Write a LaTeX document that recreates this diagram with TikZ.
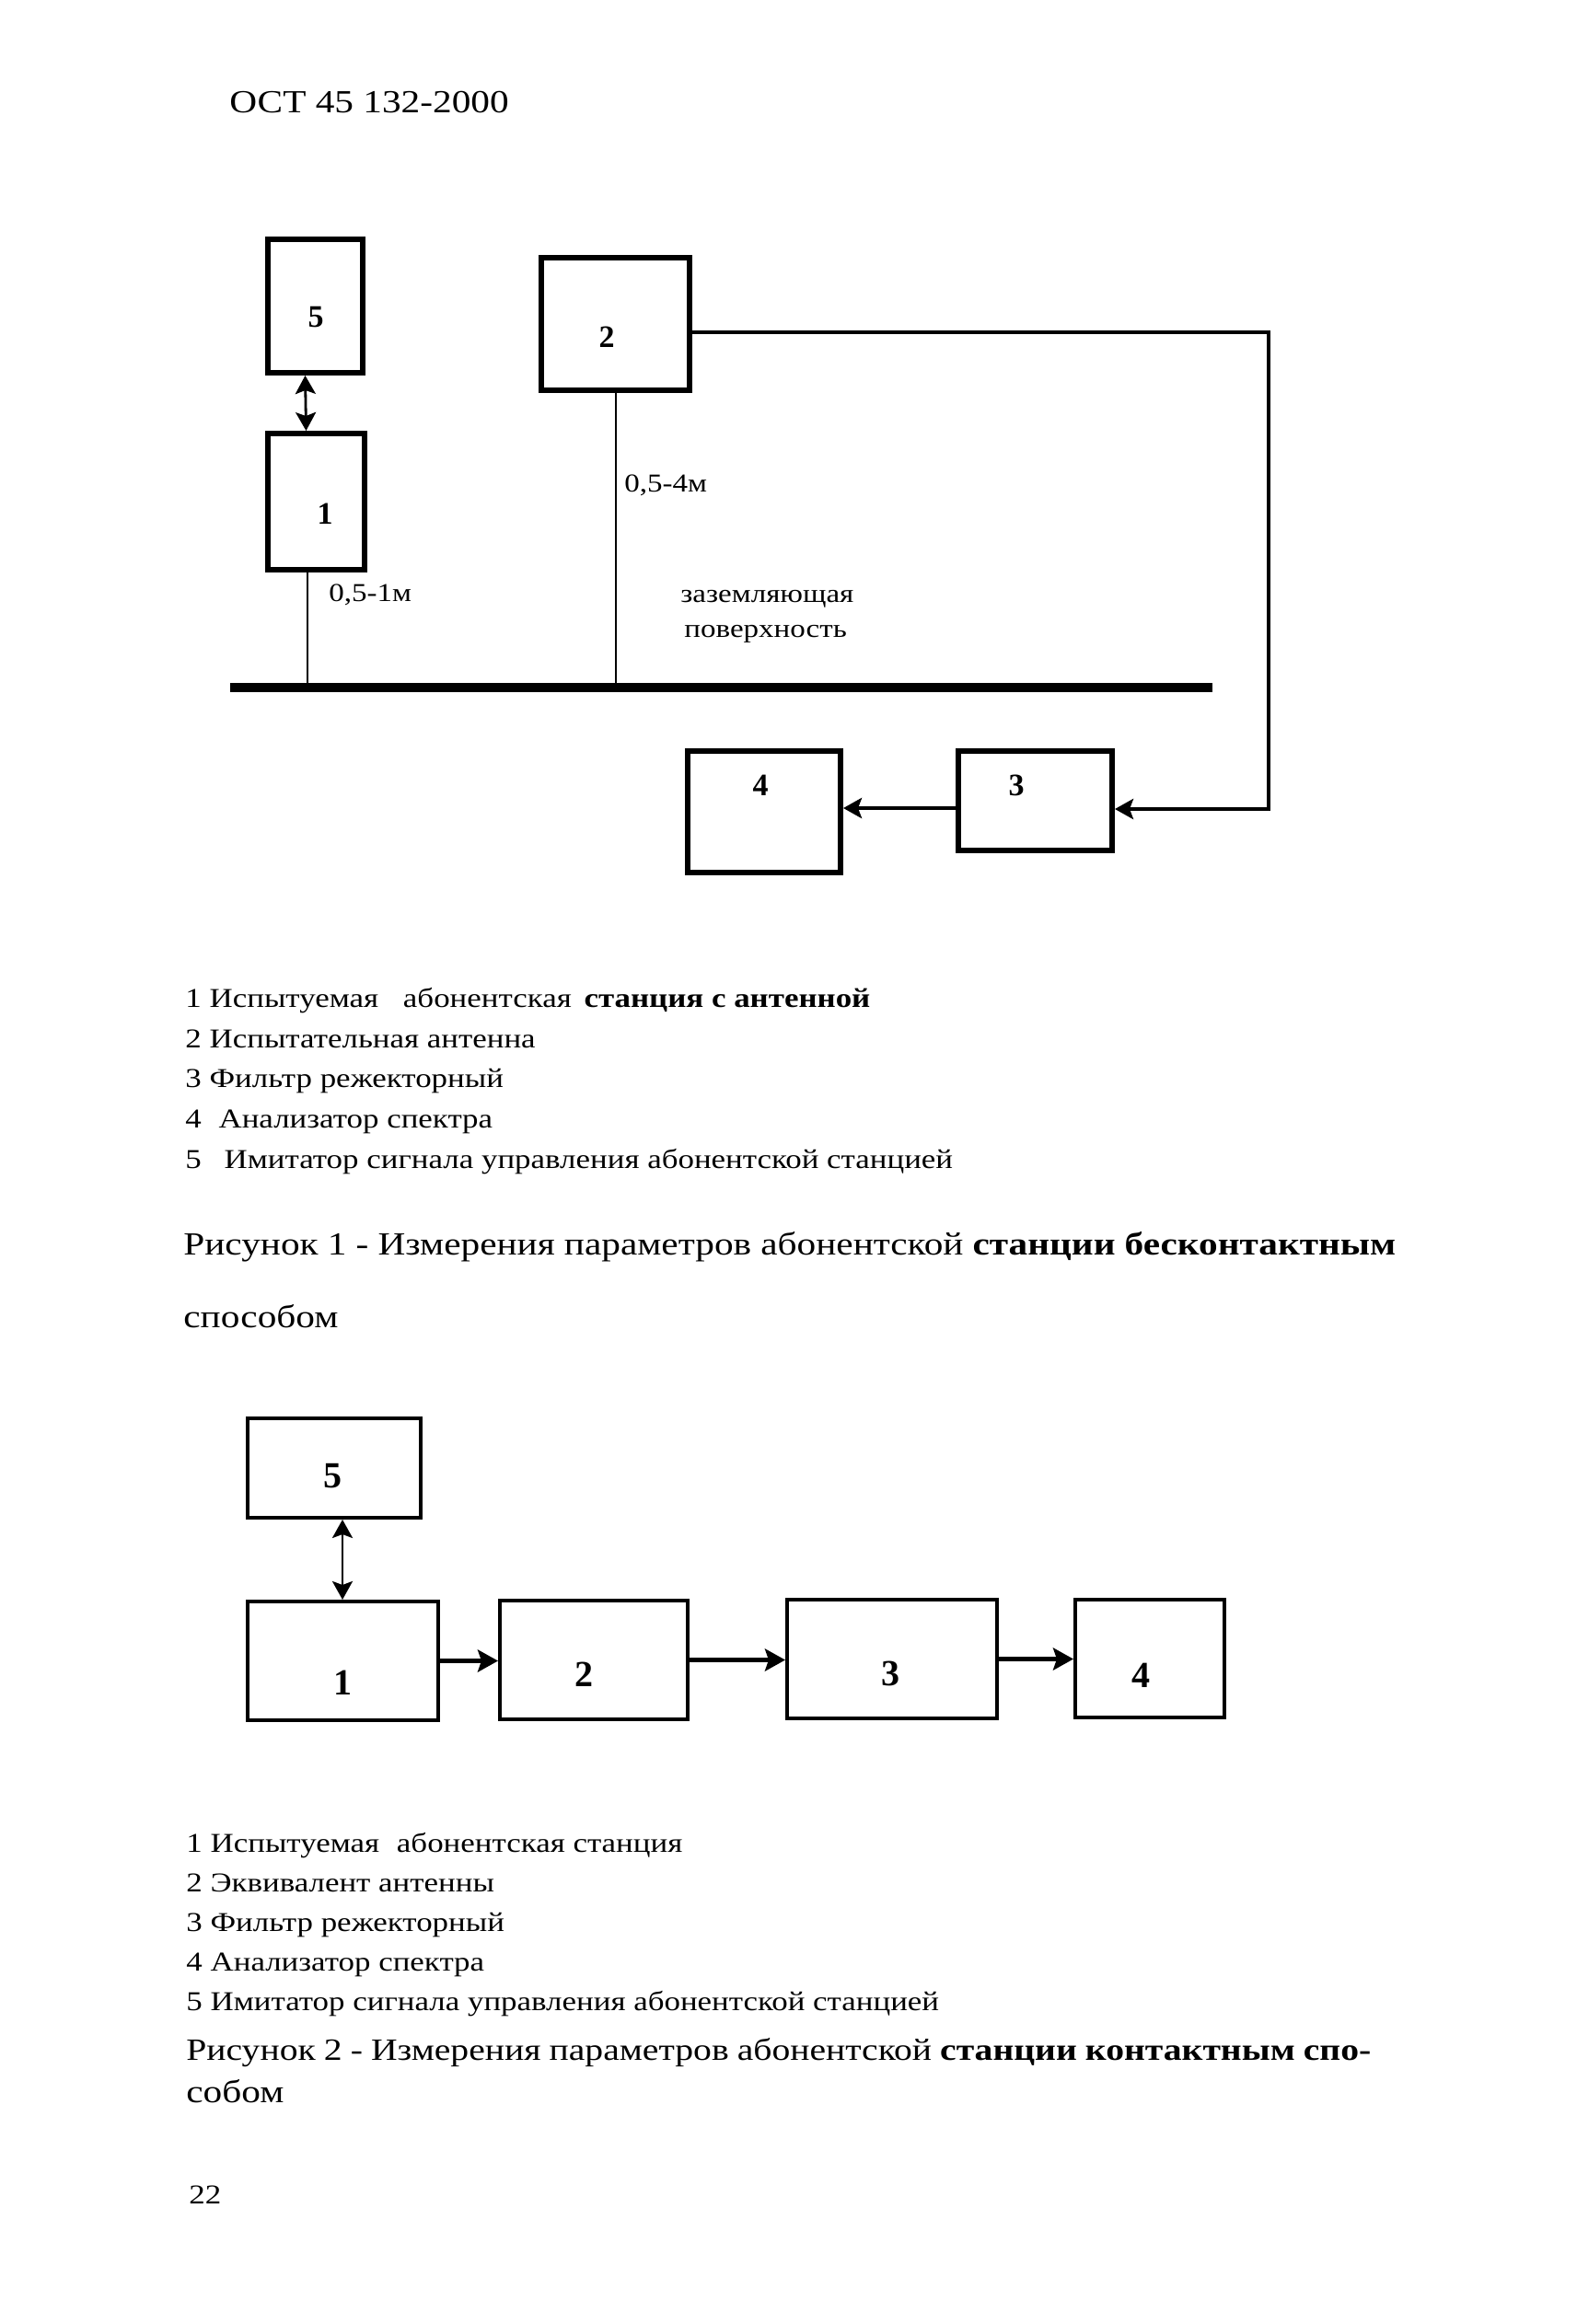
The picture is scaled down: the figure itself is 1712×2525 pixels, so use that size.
\documentclass[tikz,border=0pt]{standalone}
\usepackage{fontspec}
\setmainfont{Liberation Serif}[FakeStretch=1.18]
\newfontfamily\labfont{Liberation Serif}
\usetikzlibrary{arrows.meta,calc}
\tikzset{
  boxa/.style={draw, line width=3pt, inner sep=0pt},
  boxb/.style={draw, line width=2pt, inner sep=0pt},
  laba/.style={inner sep=0pt, font=\labfont\bfseries\fontsize{17pt}{19pt}\selectfont},
  labb/.style={inner sep=0pt, font=\labfont\bfseries\fontsize{20pt}{22pt}\selectfont},
  legend/.style={anchor=base west, inner sep=0pt, font=\fontsize{14.8pt}{17pt}\selectfont},
  captxt/.style={anchor=base west, inner sep=0pt, font=\fontsize{17.5pt}{20pt}\selectfont},
  captxtb/.style={anchor=base west, inner sep=0pt, font=\fontsize{16.8pt}{19pt}\selectfont},
  dimtxt/.style={anchor=base west, inner sep=0pt, font=\fontsize{14pt}{16pt}\selectfont},
  tip/.style={-{Stealth[length=10pt,width=11pt,inset=2pt]}},
  dtip/.style={{Stealth[length=10pt,width=11pt,inset=2pt]}-{Stealth[length=10pt,width=11pt,inset=2pt]}},
  conna/.style={line width=2.2pt, tip},
  thinline/.style={line width=1pt},
  groundline/.style={line width=4.8pt},
  dbla/.style={line width=1.4pt, dtip},
  connb/.style={line width=2.4pt, -{Stealth[length=11pt,width=12pt,inset=2pt]}},
  dblb/.style={line width=1.4pt, dtip}
}
\begin{document}
\begin{tikzpicture}[x=0.5pt,y=-0.5pt]
\useasboundingbox (0,0) rectangle (1712,2525);
\fill[white] (0,0) rectangle (1712,2525);

% header
\node[captxt] (hdr) at (249,123) {ОСТ 45 132-2000};

% ---------- Figure 1 ----------
\node[boxa, minimum width=51.5pt, minimum height=72.5pt] (a5) at (342.5,332.5) {};
\node[boxa, minimum width=52.5pt, minimum height=74pt] (a1) at (343.5,545) {};
\node[boxa, minimum width=80.5pt, minimum height=72pt] (a2) at (668.5,352) {};
\node[boxa, minimum width=83.5pt, minimum height=54pt] (a3) at (1124.5,870) {};
\node[boxa, minimum width=83pt, minimum height=66pt] (a4) at (830,882) {};

\node[laba] (la5) at (343,345) {5};
\node[laba] (la1) at (353,558) {1};
\node[laba] (la2) at (659,366) {2};
\node[laba] (la3) at (1104,853) {3};
\node[laba] (la4) at (826,853) {4};

\coordinate (gl) at (250,747);
\coordinate (gr) at (1317,747);
\coordinate (rc) at (1378,879);

\draw[dbla] ([xshift=-5.5pt]a5.south) -- ([xshift=-5.5pt]a1.north);
\draw[thinline] ([xshift=-5pt]a1.south) -- ([xshift=-5pt]a1.south |- gl);
\draw[thinline] (a2.south) -- (a2.south |- gl);
\draw[groundline] (gl) -- (gr);
\draw[conna] ([yshift=-4.5pt]a2.east) -| (rc) -- (rc -| a3.east);
\draw[conna] ([yshift=-4pt]a3.west) -- ([yshift=-4pt]a3.west -| a4.east);

\node[dimtxt] (d1) at (357,653) {0,5-1м};
\node[dimtxt] (d2) at (678,534) {0,5-4м};
\node[dimtxt] (g1) at (739,654) {заземляющая};
\node[dimtxt] (g2) at (743,692) {поверхность};

% legend 1
\node[legend] (l11) at (201,1094) {1 Испытуемая\hspace{9pt} абонентская\hspace{2.5pt} {\bfseries станция с антенной}};
\node[legend] (l12) at (201,1138) {2 Испытательная антенна};
\node[legend] (l13) at (201,1181) {3 Фильтр режекторный};
\node[legend] (l14) at (201,1225) {4\hspace{5pt} Анализатор спектра};
\node[legend] (l15) at (201,1269) {5\hspace{8pt} Имитатор сигнала управления абонентской станцией};

\node[captxt] (c1a) at (199,1363) {\makebox[658.5pt][s]{Рисунок 1 - Измерения параметров абонентской {\bfseries станции бесконтактным}}};
\node[captxt] (c1b) at (199,1442) {способом};

% ---------- Figure 2 ----------
\node[boxb, minimum width=94pt, minimum height=54pt] (b5) at (363,1595) {};
\node[boxb, minimum width=103.5pt, minimum height=64.5pt] (b1) at (372.5,1804.5) {};
\node[boxb, minimum width=102pt, minimum height=64.5pt] (b2) at (645,1803.5) {};
\node[boxb, minimum width=114pt, minimum height=64.5pt] (b3) at (969,1802.5) {};
\node[boxb, minimum width=81pt, minimum height=64pt] (b4) at (1249,1802) {};

\node[labb] (lb5) at (361,1604) {5};
\node[labb] (lb1) at (372,1828) {1};
\node[labb] (lb2) at (634,1819) {2};
\node[labb] (lb3) at (967,1818) {3};
\node[labb] (lb4) at (1239,1820) {4};

\draw[dblb] ([xshift=4.5pt]b5.south) -- ([xshift=4.5pt]b5.south |- b1.north);
\draw[connb] (b1.east) -- (b1.east -| b2.west);
\draw[connb] (b2.east) -- (b2.east -| b3.west);
\draw[connb] (b3.east) -- (b3.east -| b4.west);

% legend 2
\node[legend] (l21) at (202,2012) {1 Испытуемая\hspace{5pt} абонентская станция};
\node[legend] (l22) at (202,2055) {2 Эквивалент антенны};
\node[legend] (l23) at (202,2098) {3 Фильтр режекторный};
\node[legend] (l24) at (202,2141) {4 Анализатор спектра};
\node[legend] (l25) at (202,2184) {5 Имитатор сигнала управления абонентской станцией};

\node[captxtb] (c2a) at (202,2238) {\makebox[643.5pt][s]{Рисунок 2 - Измерения параметров абонентской {\bfseries станции контактным спо-}}};
\node[captxt] (c2b) at (202,2284) {собом};

% page number
\node[legend] (pg) at (205,2394) {22};
\end{tikzpicture}
\end{document}
